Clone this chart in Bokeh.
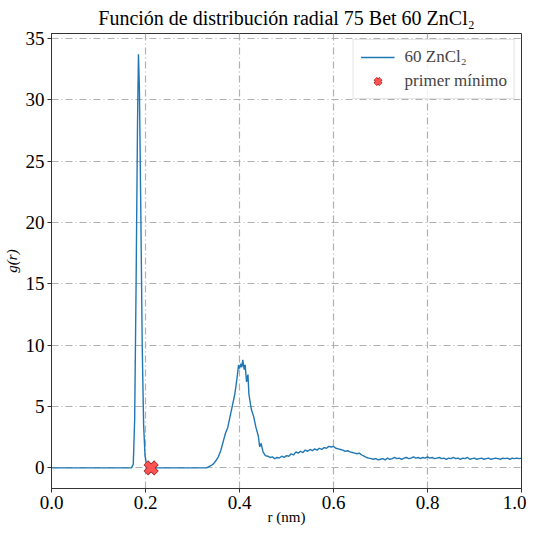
from bokeh.plotting import figure
from bokeh.models import Range1d, FixedTicker, PrintfTickFormatter, Legend, LegendItem
from bokeh.embed import file_html
from bokeh.resources import INLINE

# ---- data ----
r_first = [0.000, 0.100, 0.170, 0.174, 0.177, 0.180, 0.183, 0.185, 0.187, 0.190,
           0.193, 0.196, 0.199, 0.202, 0.206, 0.210, 0.250, 0.300, 0.325]
g_first = [0.0, 0.0, 0.0, 0.3, 4.0, 15.0, 28.0, 33.7, 31.0, 21.0,
           10.0, 3.5, 1.0, 0.3, 0.1, 0.0, 0.0, 0.0, 0.0]

r_second = [0.330, 0.335, 0.340, 0.345, 0.350, 0.355, 0.360, 0.365, 0.370, 0.375,
            0.380, 0.385, 0.390, 0.395, 0.398, 0.400, 0.403, 0.405, 0.407, 0.410,
            0.412, 0.415, 0.418, 0.420, 0.425, 0.430, 0.435, 0.440, 0.443, 0.446,
            0.450, 0.455, 0.460, 0.465, 0.470, 0.475, 0.480, 0.485, 0.490, 0.495,
            0.500, 0.505, 0.510, 0.515, 0.520, 0.525, 0.530, 0.535, 0.540, 0.545,
            0.550, 0.555, 0.560, 0.565, 0.570, 0.575, 0.580, 0.585, 0.590, 0.595,
            0.600, 0.605, 0.610, 0.615, 0.620, 0.625, 0.630, 0.635, 0.640, 0.645,
            0.650, 0.655, 0.660, 0.665, 0.670, 0.675, 0.680, 0.685, 0.690, 0.695,
            0.700, 0.705, 0.710, 0.715, 0.720, 0.725, 0.730, 0.735, 0.740, 0.745,
            0.750, 0.755, 0.760, 0.765, 0.770, 0.775, 0.780, 0.785, 0.790, 0.795,
            0.800, 0.805, 0.810, 0.815, 0.820, 0.825, 0.830, 0.835, 0.840, 0.845,
            0.850, 0.855, 0.860, 0.865, 0.870, 0.875, 0.880, 0.885, 0.890, 0.895,
            0.900, 0.905, 0.910, 0.915, 0.920, 0.925, 0.930, 0.935, 0.940, 0.945,
            0.950, 0.955, 0.960, 0.965, 0.970, 0.975, 0.980, 0.985, 0.990, 0.995,
            1.000]
g_second = [0.0, 0.1, 0.2, 0.35, 0.6, 0.9, 1.4, 2.1, 2.8, 3.3,
            4.2, 5.1, 6.0, 7.4, 8.4, 8.1, 8.5, 8.2, 8.8, 8.0,
            8.4, 7.0, 7.6, 6.0, 4.8, 4.2, 3.3, 2.6, 1.7, 2.0,
            1.3, 1.0, 0.95, 0.85, 0.9, 0.75, 0.85, 0.8, 0.95, 0.85,
            1.0, 0.95, 1.15, 1.05, 1.3, 1.2, 1.35, 1.25, 1.45, 1.35,
            1.5, 1.4, 1.55, 1.45, 1.6, 1.5, 1.65, 1.6, 1.75, 1.7,
            1.75, 1.6, 1.55, 1.5, 1.45, 1.35, 1.4, 1.3, 1.25, 1.2,
            1.15, 1.2, 1.05, 0.95, 0.85, 0.8, 0.75, 0.7, 0.75, 0.65,
            0.7, 0.75, 0.65, 0.8, 0.7, 0.75, 0.85, 0.75, 0.8, 0.7,
            0.8, 0.85, 0.75, 0.8, 0.9, 0.8, 0.85, 0.75, 0.85, 0.8,
            0.9, 0.8, 0.85, 0.75, 0.8, 0.85, 0.75, 0.8, 0.7, 0.8,
            0.75, 0.85, 0.75, 0.8, 0.7, 0.8, 0.75, 0.85, 0.7, 0.75,
            0.8, 0.7, 0.75, 0.8, 0.7, 0.75, 0.8, 0.7, 0.75, 0.8,
            0.75, 0.7, 0.8, 0.75, 0.8, 0.7, 0.8, 0.75, 0.8, 0.75,
            0.8]

r_data = r_first + r_second
g_data = g_first + g_second

r_min = [0.212]
g_min = [0.0]

x_ticks = [0.0, 0.2, 0.4, 0.6, 0.8, 1.0]
y_ticks = [0, 5, 10, 15, 20, 25, 30, 35]

title_text = "Función de distribución radial 75 Bet 60 ZnCl₂"
line_label = "60 ZnCl₂"
marker_label = "primer mínimo"
x_label = "r (nm)"
y_label = "g(r)"

FONT = "Liberation Serif"
Y_LO, Y_HI = -1.68, 35.4

p = figure(frame_width=470, frame_height=455, output_backend="svg", toolbar_location=None,
           x_range=Range1d(0.0, 1.0), y_range=Range1d(Y_LO, Y_HI),
           title=title_text, min_border_left=46, min_border_right=5,
           min_border_top=27, min_border_bottom=40)

p.title.text_font = FONT
p.title.text_font_size = "20px"
p.title.text_font_style = "normal"
p.title.align = "center"
p.title.text_color = "#000000"
p.title.offset = 0
p.title.standoff = 9

ln = p.line(r_data, g_data, line_color="#1f77b4", line_width=1.4)
# thinner copies of the marker (hidden under the main one) give the legend glyph
leg_edge = p.scatter(r_min, g_min, marker="x", size=12, line_color="#8b2a2a", line_width=4.5)
leg_mk = p.scatter(r_min, g_min, marker="x", size=12, line_color="#ff5252", line_width=3.2)
p.scatter(r_min, g_min, marker="x", size=15, line_color="#8b2a2a", line_width=6.5)
p.scatter(r_min, g_min, marker="x", size=14, line_color="#ff5252", line_width=5)

for ax in (p.xaxis[0], p.yaxis[0]):
    ax.major_label_text_font = FONT
    ax.major_label_text_font_size = "19px"
    ax.major_label_text_color = "#000000"
    ax.axis_label_text_font = FONT
    ax.axis_label_text_font_size = "15px"
    ax.axis_label_text_color = "#000000"
    ax.major_tick_in = 0
    ax.major_tick_out = 4
    ax.minor_tick_in = 0
    ax.minor_tick_out = 0
    ax.axis_line_color = "#333333"
    ax.major_tick_line_color = "#333333"

p.xaxis[0].ticker = FixedTicker(ticks=x_ticks)
p.xaxis[0].formatter = PrintfTickFormatter(format="%.1f")
p.yaxis[0].ticker = FixedTicker(ticks=y_ticks)
p.xaxis[0].axis_label = x_label
p.xaxis[0].axis_label_text_font_style = "normal"
p.xaxis[0].axis_label_standoff = -3
p.xaxis[0].major_label_standoff = 3
p.yaxis[0].axis_label = y_label
p.yaxis[0].axis_label_text_font_style = "italic"
p.yaxis[0].axis_label_standoff = 3
p.yaxis[0].major_label_standoff = 3

for g in (p.xgrid[0], p.ygrid[0]):
    g.grid_line_color = "#b0b0b0"
    g.grid_line_dash = "7 3 1 3"
    g.grid_line_width = 1.2

p.outline_line_color = "#333333"
p.outline_line_width = 1
p.background_fill_color = "white"
p.border_fill_color = "white"

legend = Legend(items=[LegendItem(label=line_label, renderers=[ln]),
                       LegendItem(label=marker_label, renderers=[leg_edge, leg_mk])],
                location="top_right")
legend.label_text_font = FONT
legend.label_text_font_size = "17px"
legend.border_line_color = "#cccccc"
legend.border_line_width = 1
legend.background_fill_alpha = 0.85
legend.margin = 6
legend.padding = 7
legend.spacing = 4
legend.glyph_width = 34
legend.label_standoff = 10
p.add_layout(legend)

open("out.html", "w").write(file_html(p, INLINE))
